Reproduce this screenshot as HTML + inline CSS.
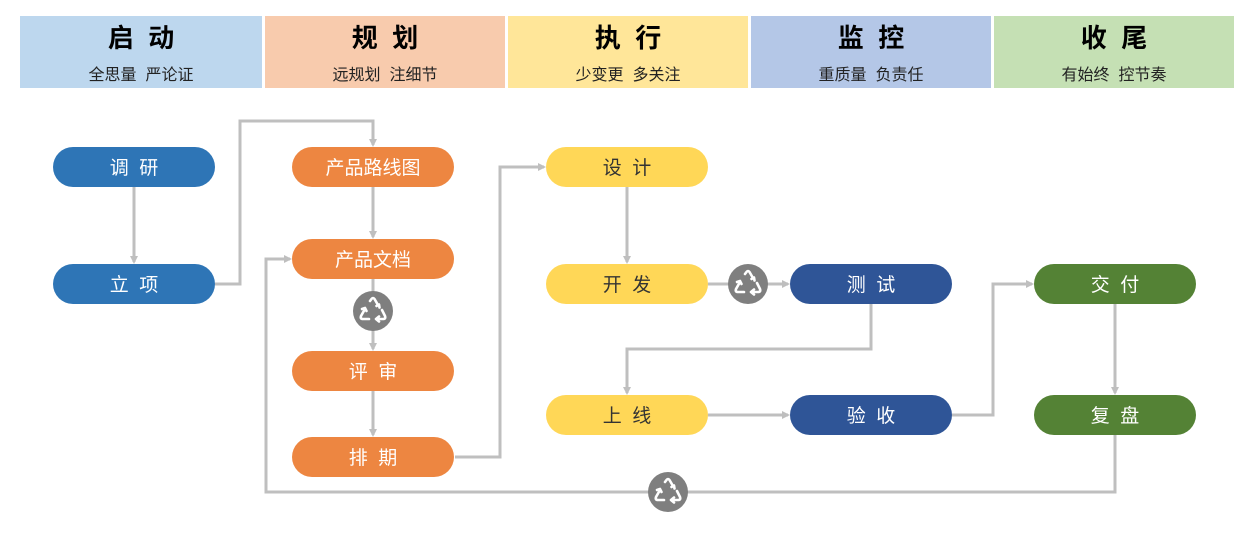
<!DOCTYPE html>
<html><head><meta charset="utf-8"><style>
html,body{margin:0;padding:0;background:#fff;width:1250px;height:542px;overflow:hidden}
svg text{font-family:"Liberation Sans","Noto Sans CJK SC",sans-serif;white-space:pre}
</style></head><body>
<svg width="1250" height="542" viewBox="0 0 1250 542" xmlns="http://www.w3.org/2000/svg">
<defs>
<marker id="a" markerWidth="8" markerHeight="8" refX="6" refY="4" orient="auto" markerUnits="userSpaceOnUse">
<path d="M0,0 L8,4 L0,8 z" fill="#bfbfbf"/></marker>
<g id="rc">
<circle r="20" fill="#7f7f7f"/>
<g fill="none" stroke="#fff" stroke-width="2.6" stroke-linecap="round" stroke-linejoin="round">
<path d="M-3,-10 L-1.5,-12 Q0,-14 1.5,-12 L5,-6"/>
<path d="M3.5,-5 L6,-6.5 L6.5,-3.5"/>
<path d="M9,-1 L12,5 Q13,8 10,8 L5,8"/>
<path d="M6,5.5 L3,8 L6,10.5"/>
<path d="M-4,8 L-10,8 Q-13,8 -12,5 L-8,-2"/>
<path d="M-11,-2 L-8,-3 L-6.5,0"/>
</g></g>
</defs>
<rect x="20" y="16" width="242" height="72" fill="#BDD7EE"/>
<rect x="265" y="16" width="240" height="72" fill="#F8CBAD"/>
<rect x="508" y="16" width="240" height="72" fill="#FFE699"/>
<rect x="751" y="16" width="240" height="72" fill="#B4C7E7"/>
<rect x="994" y="16" width="240" height="72" fill="#C5E0B4"/>
<g font-size="26" font-weight="bold" fill="#000" text-anchor="middle">
<text x="141" y="47">启  动</text><text x="385" y="47">规  划</text><text x="628" y="47">执  行</text><text x="871" y="47">监  控</text><text x="1114" y="47">收  尾</text>
</g>
<g font-size="16" fill="#222" text-anchor="middle">
<text x="141" y="80">全思量  严论证</text><text x="385" y="80">远规划  注细节</text><text x="628" y="80">少变更  多关注</text><text x="871" y="80">重质量  负责任</text><text x="1114" y="80">有始终  控节奏</text>
</g>
<g fill="none" stroke="#bfbfbf" stroke-width="3">
<path d="M134,187 V262" marker-end="url(#a)"/>
<path d="M215,284 H240 V121 H373 V145" marker-end="url(#a)"/>
<path d="M373,187 V237" marker-end="url(#a)"/>
<path d="M373,279 V349" marker-end="url(#a)"/>
<path d="M373,391 V435" marker-end="url(#a)"/>
<path d="M455,457 H500 V167 H544" marker-end="url(#a)"/>
<path d="M627,187 V262" marker-end="url(#a)"/>
<path d="M708,284 H788" marker-end="url(#a)"/>
<path d="M871,304 V349 H627 V393" marker-end="url(#a)"/>
<path d="M708,415 H788" marker-end="url(#a)"/>
<path d="M952,415 H993 V284 H1032" marker-end="url(#a)"/>
<path d="M1115,304 V393" marker-end="url(#a)"/>
<path d="M1115,435 V492 H266 V259 H290" marker-end="url(#a)"/>
</g>
<use href="#rc" x="373" y="311"/>
<use href="#rc" x="748" y="284"/>
<use href="#rc" x="668" y="492"/>
<g>
<rect x="53" y="147" width="162" height="40" rx="20" fill="#2E75B6"/>
<rect x="53" y="264" width="162" height="40" rx="20" fill="#2E75B6"/>
<rect x="292" y="147" width="162" height="40" rx="20" fill="#ED8641"/>
<rect x="292" y="239" width="162" height="40" rx="20" fill="#ED8641"/>
<rect x="292" y="351" width="162" height="40" rx="20" fill="#ED8641"/>
<rect x="292" y="437" width="162" height="40" rx="20" fill="#ED8641"/>
<rect x="546" y="147" width="162" height="40" rx="20" fill="#FFD757"/>
<rect x="546" y="264" width="162" height="40" rx="20" fill="#FFD757"/>
<rect x="546" y="395" width="162" height="40" rx="20" fill="#FFD757"/>
<rect x="790" y="264" width="162" height="40" rx="20" fill="#2F5597"/>
<rect x="790" y="395" width="162" height="40" rx="20" fill="#2F5597"/>
<rect x="1034" y="264" width="162" height="40" rx="20" fill="#548235"/>
<rect x="1034" y="395" width="162" height="40" rx="20" fill="#548235"/>
</g>
<g font-size="19" text-anchor="middle" fill="#fff">
<text x="134" y="174">调  研</text>
<text x="134" y="291">立  项</text>
<text x="373" y="174">产品路线图</text>
<text x="373" y="266">产品文档</text>
<text x="373" y="378">评  审</text>
<text x="373" y="464">排  期</text>
<text x="871" y="291">测  试</text>
<text x="871" y="422">验  收</text>
<text x="1115" y="291">交  付</text>
<text x="1115" y="422">复  盘</text>
<g fill="#333">
<text x="627" y="174">设  计</text>
<text x="627" y="291">开  发</text>
<text x="627" y="422">上  线</text>
</g>
</g>
</svg>
</body></html>
